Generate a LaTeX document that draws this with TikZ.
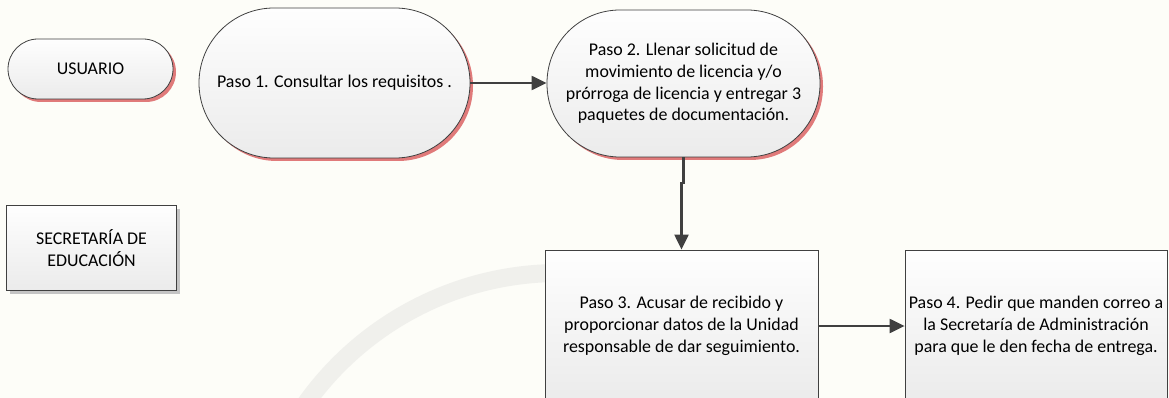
\documentclass[tikz,border=0pt]{standalone}
\usepackage{fontspec}
\setmainfont{Carlito}
\usetikzlibrary{shadows,arrows.meta}

\definecolor{fondo}{RGB}{253,253,248}
\definecolor{linea}{RGB}{64,64,64}
\definecolor{sombra}{RGB}{224,122,122}
\definecolor{sombragris}{RGB}{196,196,196}
\definecolor{marca}{RGB}{240,240,236}
\definecolor{arriba}{RGB}{254,254,254}
\definecolor{abajo}{RGB}{235,235,235}

\begin{document}
\begin{tikzpicture}[x=1pt,y=-1pt,
    font=\fontsize{17.9}{21.7}\selectfont,
    caja/.style={draw=linea,line width=0.8pt,top color=arriba,bottom color=abajo,align=center,inner sep=2pt},
    ovalo/.style={caja,drop shadow={shadow xshift=3pt,shadow yshift=-3pt,fill=sombra,opacity=1}},
    flecha/.style={draw=linea,line width=2.2pt,-{Triangle[length=15pt,width=14pt]}}]

    \useasboundingbox (0,0) rectangle (1169,398);
    \fill[fondo] (0,0) rectangle (1169,398);
    \clip (0,0) rectangle (1169,398);

    % marca de agua
    \draw[marca,line width=18pt] (559,584) ++(205:311) arc[start angle=205,end angle=300,radius=311];

    \node[ovalo,rounded corners=30pt,minimum width=165pt,minimum height=60pt] (usuario) at (90.5,69) {USUARIO};
    \node[caja,drop shadow={shadow xshift=3pt,shadow yshift=-3pt,fill=sombragris,opacity=1},minimum width=170pt,minimum height=85pt] (secretaria) at (91.5,248) {SECRETARÍA DE\\EDUCACIÓN};

    \node[ovalo,rounded corners=75pt,minimum width=271pt,minimum height=150pt] (paso1) at (334.5,83) {Paso 1. Consultar los requisitos .};
    \node[ovalo,rounded corners=73pt,minimum width=273pt,minimum height=147pt] (paso2) at (683.5,83.5) {Paso 2. Llenar solicitud de\\movimiento de licencia y/o\\prórroga de licencia y entregar 3\\paquetes de documentación.};
    \node[caja,minimum width=273pt,minimum height=152pt] (paso3) at (681.5,326) {Paso 3. Acusar de recibido y\\proporcionar datos de la Unidad\\responsable de dar seguimiento.};
    \node[caja,minimum width=262pt,minimum height=152pt] (paso4) at (1036,326) {Paso 4. Pedir que manden correo a\\la Secretaría de Administración\\para que le den fecha de entrega.};

    \draw[flecha] (paso1.east) -- (paso1.east -| paso2.west);
    \draw[flecha] (paso2.south) -- ++(0,26) -| (paso3.north);
    \draw[flecha] (paso3.east) -- (paso4.west);
\end{tikzpicture}
\end{document}
